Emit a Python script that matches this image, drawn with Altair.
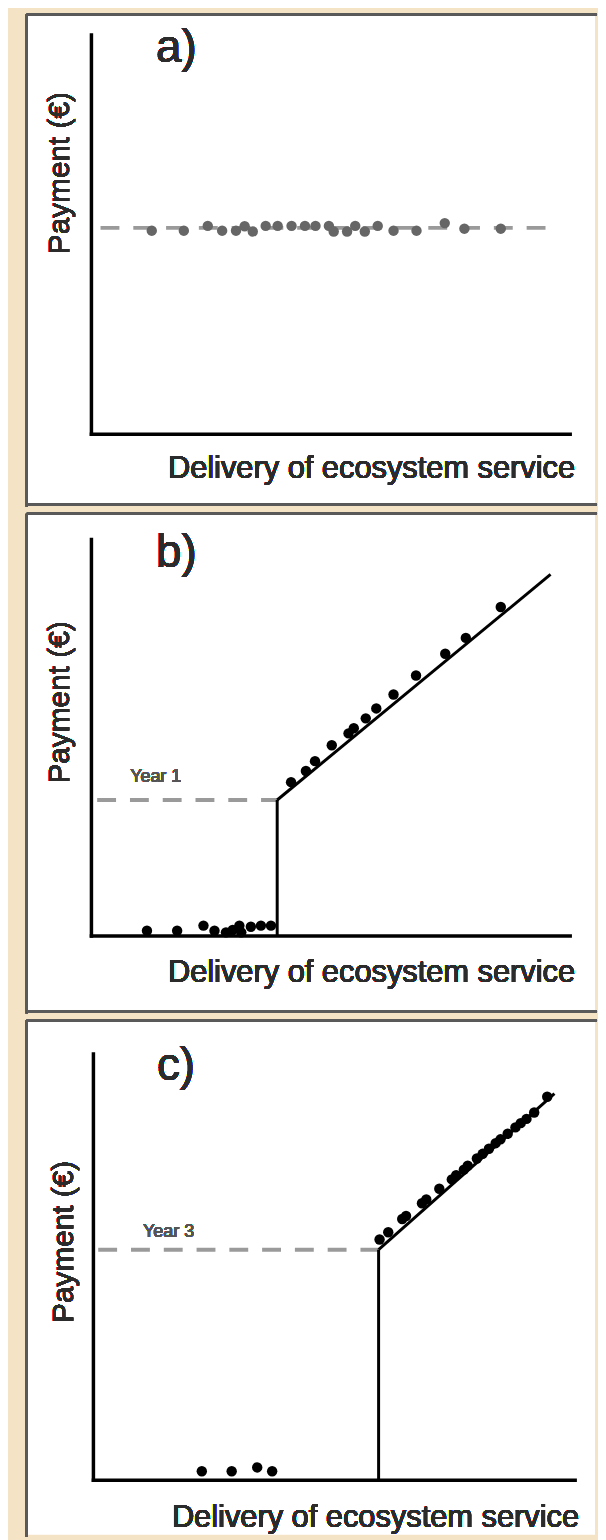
import altair as alt
import pandas as pd

# ---------------- data (abstract units: 0..100 along each axis) ----------------
# panel a: flat payment
a_pts_x = [12.6, 19.3, 24.3, 27.3, 30.2, 32.0, 33.7, 36.4, 38.9, 41.8, 44.6, 46.8,
           49.6, 50.6, 53.4, 55.1, 57.1, 59.8, 63.1, 67.9, 73.8, 77.9, 85.5]
a_pts_y = [51.0, 51.0, 52.2, 51.0, 51.0, 52.1, 50.8, 52.2, 52.2, 52.2, 52.2, 52.2,
           52.2, 50.8, 50.8, 52.2, 50.8, 52.2, 51.0, 51.0, 52.9, 51.5, 51.5]
a_level = 51.7
a_dash_x = [1.9, 95.9]

# panel b: threshold in year 1
b_low_x = [11.6, 17.9, 23.4, 25.7, 28.1, 29.5, 30.9, 31.3, 33.3, 35.4, 37.5]
b_low_y = [1.3, 1.3, 2.6, 1.3, 0.9, 1.5, 2.6, 0.9, 2.3, 2.6, 2.6]
b_up_x = [41.7, 44.8, 46.7, 50.2, 53.7, 54.8, 57.3, 59.5, 63.1, 67.8, 73.9, 78.2, 85.5]
b_up_y = [38.8, 41.6, 44.1, 48.1, 51.1, 52.4, 54.9, 57.4, 60.9, 65.7, 71.2, 75.2, 83.0]
b_threshold = 38.8
b_level = 34.3
b_end = [95.9, 91.2]
b_dash_start = 1.2

# panel c: threshold in year 3
c_low_x = [22.5, 28.7, 34.0, 37.1]
c_low_y = [2.1, 2.1, 3.0, 2.1]
c_up_x = [59.4, 61.2, 64.1, 64.9, 68.2, 69.1, 71.8, 74.4, 75.3, 76.9, 77.7,
          79.6, 80.8, 82.1, 83.5, 84.5, 86.0, 87.6, 88.7, 89.9, 91.5, 94.2]
c_up_y = [56.5, 58.2, 61.3, 62.0, 65.0, 65.9, 68.4, 70.6, 71.6, 72.9, 73.8,
          75.5, 76.6, 77.8, 79.1, 80.0, 81.3, 82.8, 83.8, 84.8, 86.3, 90.0]
c_threshold = 59.2
c_level = 54.1
c_end = [95.7, 90.7]
c_dash_start = 1.0

XTITLE = "Delivery of ecosystem service"
YTITLE = "Payment (€)"
FONT = "Liberation Sans"
TEXT = "#2b2b2b"
BOX_W = 572
BORDER = "#5a5a5a"


def panel(letter, H, ox, oy, Lx, Ly, pts_x, pts_y, pt_color, dashed, solids,
          letter_pos, ytitle_pos, xtitle_pos, year=None, bottom_border=True):
    xs = alt.Scale(domain=[-ox * 100 / Lx, (BOX_W - ox) * 100 / Lx], nice=False, zero=False)
    ys = alt.Scale(domain=[-(H - oy) * 100 / Ly, oy * 100 / Ly], nice=False, zero=False)
    X = lambda f: alt.X(f, type="quantitative", scale=xs, axis=None)
    Y = lambda f: alt.Y(f, type="quantitative", scale=ys, axis=None)

    axes = pd.DataFrame({"x": [0, 0], "x2": [100, 0], "y": [0, 0], "y2": [0, 100]})
    pd_ = pd.DataFrame({"x": pts_x, "y": pts_y})
    layers = []
    # panel frame (top, left and optionally bottom edges; the right edge runs off the page)
    layers.append(alt.Chart(pd_).mark_rule(color=BORDER, strokeWidth=2)
                  .encode(x=alt.value(0), x2=alt.value(BOX_W + 2), y=alt.value(0)))
    layers.append(alt.Chart(pd_).mark_rule(color=BORDER, strokeWidth=2)
                  .encode(x=alt.value(0), y=alt.value(0), y2=alt.value(H + 2)))
    if bottom_border:
        layers.append(alt.Chart(pd_).mark_rule(color=BORDER, strokeWidth=2)
                      .encode(x=alt.value(0), x2=alt.value(BOX_W + 2), y=alt.value(H)))
    # dashed reference line
    dd = pd.DataFrame({"x": [dashed[0]], "x2": [dashed[1]], "y": [dashed[2]]})
    layers.append(alt.Chart(dd).mark_rule(color="#9a9a9a", strokeWidth=4, strokeDash=[19, 14])
                  .encode(x=X("x"), x2="x2", y=Y("y")))
    # axes
    layers.append(alt.Chart(axes).mark_rule(color="black", strokeWidth=3.5, strokeCap="square")
                  .encode(x=X("x"), x2="x2", y=Y("y"), y2="y2"))
    # solid payment function
    if solids:
        sd = pd.DataFrame(solids, columns=["x", "y", "x2", "y2"])
        layers.append(alt.Chart(sd).mark_rule(color="black", strokeWidth=3)
                      .encode(x=X("x"), x2="x2", y=Y("y"), y2="y2"))
    # points
    layers.append(alt.Chart(pd_).mark_circle(color=pt_color, size=110, opacity=1)
                  .encode(x=X("x"), y=Y("y")))
    # texts
    layers.append(alt.Chart(pd_).mark_text(text=letter, font=FONT, fontSize=46, align="left",
                                           baseline="alphabetic", color=TEXT)
                  .encode(x=alt.value(letter_pos[0]), y=alt.value(letter_pos[1])))
    layers.append(alt.Chart(pd_).mark_text(text=YTITLE, font=FONT, fontSize=30, angle=270,
                                           align="center", baseline="alphabetic", color=TEXT)
                  .encode(x=alt.value(ytitle_pos[0]), y=alt.value(ytitle_pos[1])))
    layers.append(alt.Chart(pd_).mark_text(text=XTITLE, font=FONT, fontSize=31, align="left",
                                           baseline="alphabetic", color=TEXT)
                  .encode(x=alt.value(xtitle_pos[0]), y=alt.value(xtitle_pos[1])))
    if year:
        layers.append(alt.Chart(pd_).mark_text(text=year[0], font=FONT, fontSize=18, align="left",
                                               baseline="alphabetic", color="#555555")
                      .encode(x=alt.value(year[1]), y=alt.value(year[2])))
    return alt.layer(*layers).properties(width=BOX_W, height=H)


pa = panel("a)", 494, 65, 423, 482, 402, a_pts_x, a_pts_y, "#666666",
           (a_dash_x[0], a_dash_x[1], a_level), None,
           (130, 48), (42, 160), (142, 467))

pb = panel("b)", 501, 65, 425, 482, 399, b_low_x + b_up_x, b_low_y + b_up_y, "black",
           (b_dash_start, b_threshold, b_level),
           [(b_threshold, 0, b_threshold, b_level), (b_threshold, b_level, b_end[0], b_end[1])],
           (130, 54), (42, 190), (142, 471), ("Year 1", 104, 270))

pc = panel("c)", 518, 67, 463, 485, 429, c_low_x + c_up_x, c_low_y + c_up_y, "black",
           (c_dash_start, c_threshold, c_level),
           [(c_threshold, 0, c_threshold, c_level), (c_threshold, c_level, c_end[0], c_end[1])],
           (131, 60), (46, 223), (146, 510), ("Year 3", 117, 218), bottom_border=False)

chart = (alt.vconcat(pa, pb, pc, spacing=5)
         .properties(background="#F5E3C6",
                     padding={"left": 18, "top": 0, "right": 0, "bottom": 0})
         .configure_view(strokeWidth=0, fill="white"))

chart.save("out.html", embed_options={"renderer": "svg", "actions": False})
